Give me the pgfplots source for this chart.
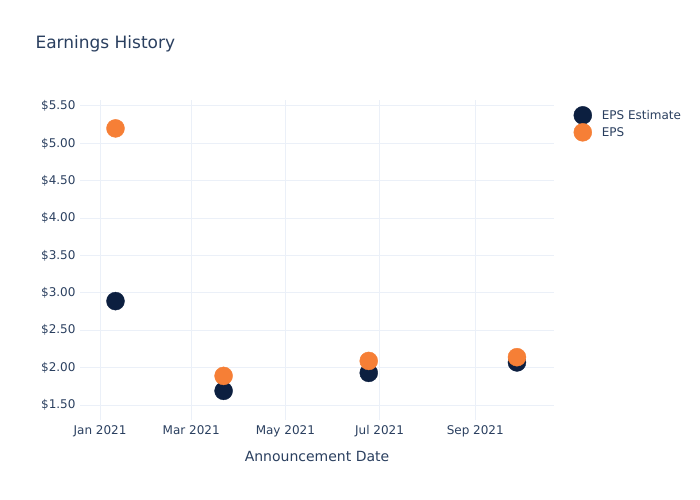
\documentclass[border=0pt]{standalone}
\usepackage{pgfplots}
\pgfplotsset{compat=1.18}
\usepackage{fontspec}
\setmainfont{DejaVu Sans}
\definecolor{txt}{HTML}{2A3F5F}
\definecolor{grd}{HTML}{EBF0F8}
\definecolor{navy}{HTML}{0C1F40}
\definecolor{orng}{HTML}{F67F36}
\begin{document}
\begin{tikzpicture}[x=1bp,y=1bp]
\path (0,0) rectangle (700,500);
\node[anchor=west,text=txt,font=\fontsize{17bp}{20bp}\selectfont] at (32,456) {Earnings History};
\begin{axis}[
  at={(80bp,80bp)}, anchor=south west,
  scale only axis, width=474bp, height=320bp,
  xmin=-13, xmax=294, ymin=1.30, ymax=5.58,
  axis line style={draw=none},
  major tick length=0pt,
  grid=major, grid style={grd, line width=1bp},
  xtick={0,59,120,181,243},
  xticklabels={Jan 2021,Mar 2021,May 2021,Jul 2021,Sep 2021},
  ytick={1.5,2,2.5,3,3.5,4,4.5,5,5.5},
  yticklabel={\$\pgfmathprintnumber[fixed,fixed zerofill,precision=2]{\tick}},
  /pgf/number format/assume math mode=true,
  tick label style={text=txt, font=\fontsize{12bp}{14bp}\selectfont},
  xticklabel style={yshift=-2bp},
  yticklabel style={xshift=-1bp},
  xlabel={Announcement Date},
  xlabel style={text=txt, font=\fontsize{14bp}{16bp}\selectfont, yshift=-7bp},
  legend style={draw=none, fill=none, at={(1.035,0.987)}, anchor=north west,
    font=\fontsize{12bp}{14bp}\selectfont, text=txt, row sep=-1bp,
    /tikz/every odd column/.append style={column sep=8bp}},
  legend cell align=left,
  clip=false,
]
\addplot[only marks, mark=*, mark size=9bp, color=navy] coordinates {
  (10,2.89) (80,1.69) (174,1.93) (270,2.07)
};
\addlegendentry{EPS Estimate}
\addplot[only marks, mark=*, mark size=9bp, color=orng] coordinates {
  (10,5.20) (80,1.89) (174,2.09) (270,2.14)
};
\addlegendentry{EPS}
\end{axis}
\end{tikzpicture}
\end{document}
